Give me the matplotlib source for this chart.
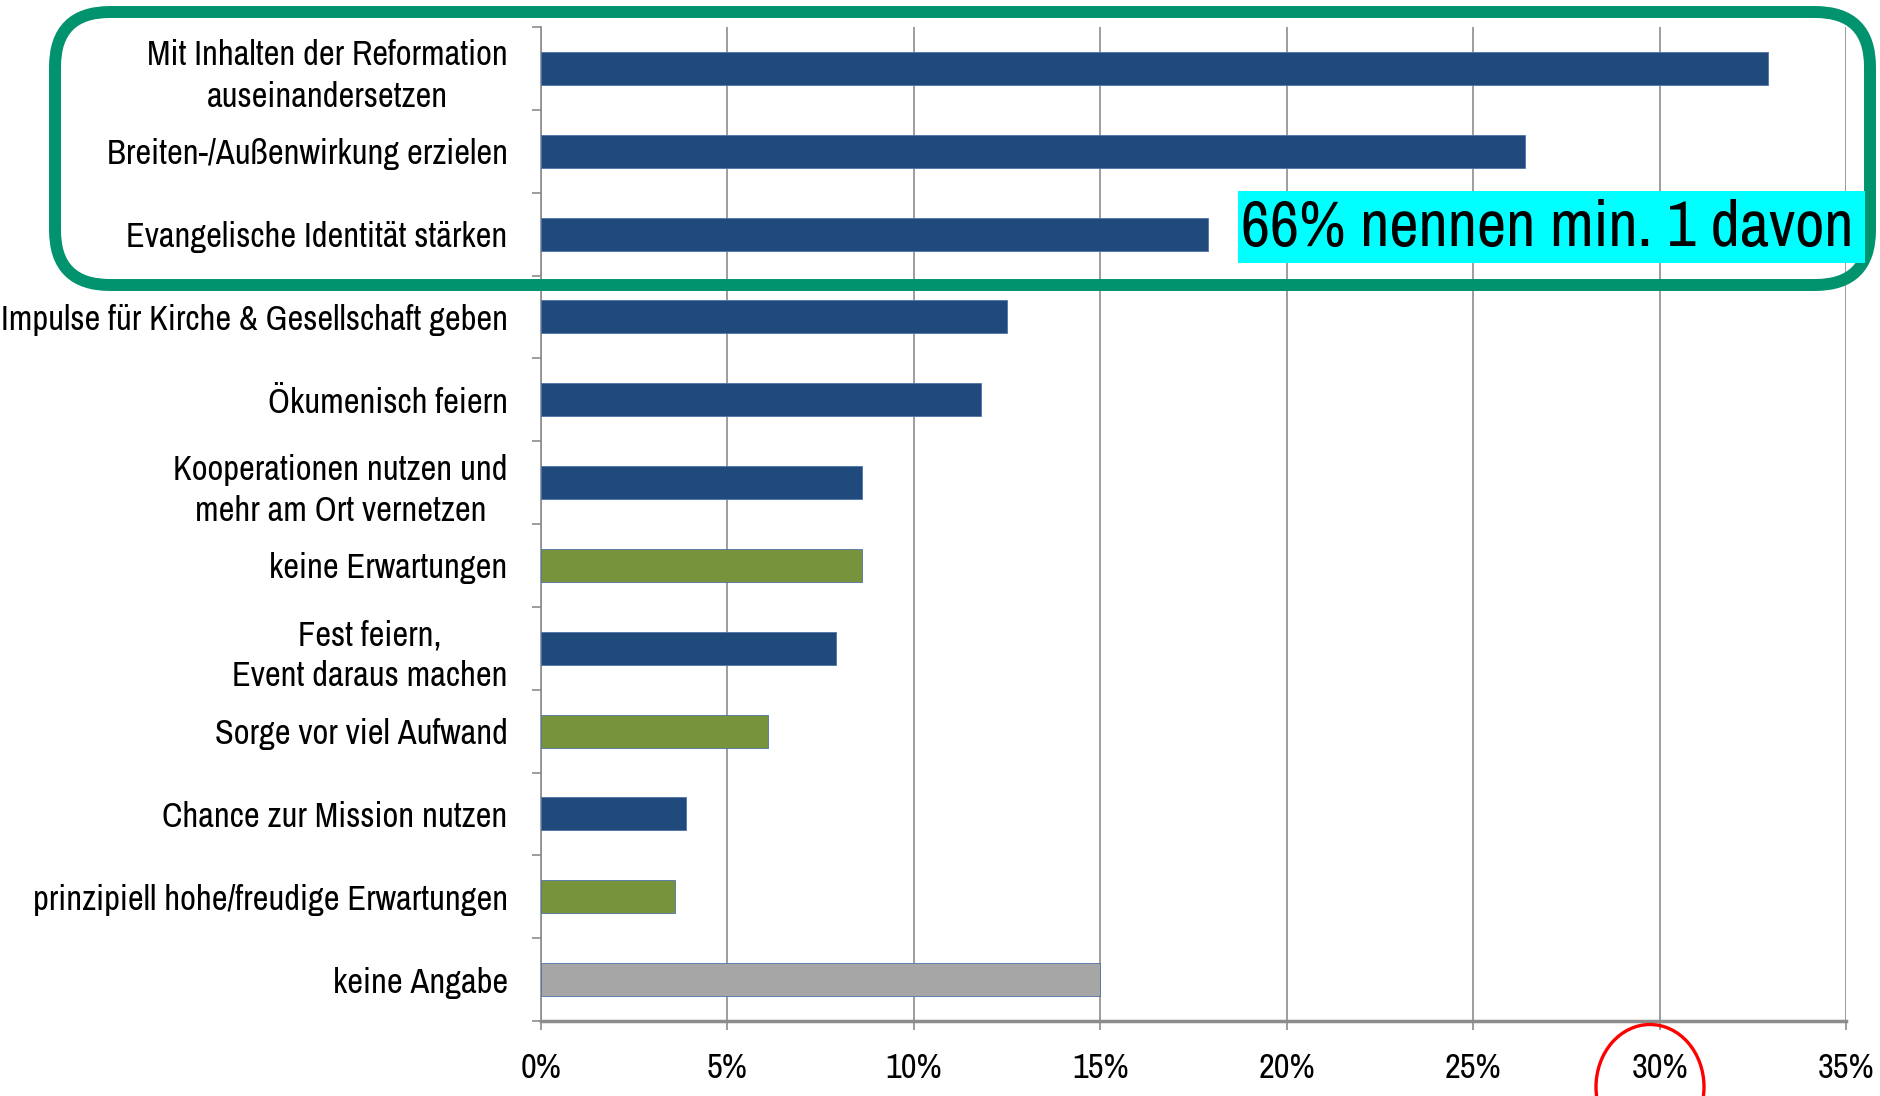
import matplotlib
matplotlib.use('Agg')
import matplotlib.pyplot as plt
from matplotlib import font_manager
from matplotlib.patches import FancyBboxPatch, Ellipse, Rectangle
from matplotlib.ticker import FuncFormatter, FixedLocator
import numpy as np

# data (share of respondents, %)
categories = [
    "Mit Inhalten der Reformation\nauseinandersetzen",
    "Breiten-/Außenwirkung erzielen",
    "Evangelische Identität stärken",
    "Impulse für Kirche & Gesellschaft geben",
    "Ökumenisch feiern",
    "Kooperationen nutzen und\nmehr am Ort vernetzen",
    "keine Erwartungen",
    "Fest feiern,\nEvent daraus machen",
    "Sorge vor viel Aufwand",
    "Chance zur Mission nutzen",
    "prinzipiell hohe/freudige Erwartungen",
    "keine Angabe",
]
values = [32.9, 26.4, 17.9, 12.5, 11.8, 8.6, 8.6, 7.9, 6.1, 3.9, 3.6, 15.0]
groups = ["pos", "pos", "pos", "pos", "pos", "pos", "neg", "pos", "neg", "pos", "neg", "na"]
group_colors = {"pos": "#214a7c", "neg": "#77933c", "na": "#a6a6a6"}
x_ticks = [0, 5, 10, 15, 20, 25, 30, 35]
note = "66% nennen min. 1 davon"

# pick a condensed face if one is installed, else a smaller regular one
names = {f.name for f in font_manager.fontManager.ttflist}
preferred = ["Liberation Sans Narrow", "Arial Narrow", "Archivo Narrow", "Roboto Condensed"]
narrow = [n for n in preferred if n in names]
narrow += sorted(n for n in names if ("Narrow" in n or "Condensed" in n) and n not in narrow)
if narrow:
    plt.rcParams['font.family'] = [narrow[0], 'DejaVu Sans']
    fs, fs_note = 24.8, 46
else:
    plt.rcParams['font.family'] = ['Liberation Sans', 'DejaVu Sans']
    fs, fs_note = 20.5, 38

W, H = 1881, 1096
fig = plt.figure(figsize=(W / 100, H / 100), dpi=100)

left, right, top, bottom = 541, 1846, 27, 1021
ax = fig.add_axes([left / W, 1 - bottom / H, (right - left) / W, (bottom - top) / H])

y = np.arange(len(categories))
colors = [group_colors[g] for g in groups]
ax.barh(y, values, height=0.4, color=colors, edgecolor="#4f73a8", linewidth=0.6, zorder=3)

ax.set_xlim(0, 35)
ax.set_ylim(len(categories) - 0.5, -0.5)

ax.set_xticks(x_ticks)
ax.xaxis.set_major_formatter(FuncFormatter(lambda v, p: f"{v:.0f}%"))
ax.grid(axis="x", color="#8c8c8c", linewidth=1.2, zorder=0)
ax.set_axisbelow(True)

ax.set_yticks(y)
ax.set_yticklabels(categories, multialignment="center", linespacing=1.35)
ax.yaxis.set_minor_locator(FixedLocator(np.arange(-0.5, len(categories), 1.0)))
ax.tick_params(axis="y", which="major", length=0, pad=24, labelsize=fs)
ax.tick_params(axis="y", which="minor", length=6.5, width=1.2, color="#8c8c8c", direction="out")
ax.tick_params(axis="x", which="major", length=6.5, width=1.2, color="#8c8c8c",
               direction="out", pad=16, labelsize=fs)

for s in ["top", "right"]:
    ax.spines[s].set_visible(False)
ax.spines["left"].set_color("#8c8c8c")
ax.spines["left"].set_linewidth(1.2)
ax.spines["bottom"].set_color("#8c8c8c")
ax.spines["bottom"].set_linewidth(2.5)

# green rounded frame around the top three items
bx0, by0, bx1, by1 = 55, 12, 1870, 285
r = 55
frame = FancyBboxPatch((bx0 / W, 1 - by1 / H), (bx1 - bx0) / W, (by1 - by0) / H,
                       boxstyle=f"round,pad=0,rounding_size={r / W}",
                       transform=fig.transFigure, fill=False,
                       edgecolor="#00936e", linewidth=8.6, zorder=10,
                       mutation_aspect=W / H)
fig.patches.append(frame)

# cyan note
fig.patches.append(Rectangle((1238 / W, 1 - 263 / H), (1865 - 1238) / W, (263 - 191) / H,
                             transform=fig.transFigure, facecolor="#00ffff",
                             edgecolor="none", zorder=11))
fig.text(1241 / W, 1 - 228 / H, note, fontsize=fs_note, ha="left", va="center", zorder=12)

# red ellipse around 30%
ell = Ellipse((1650 / W, 1 - 1087 / H), 108 / W, 125 / H, transform=fig.transFigure,
              fill=False, edgecolor="#ff0000", linewidth=2.4, zorder=12)
fig.patches.append(ell)

fig.savefig("out.png", dpi=100)
